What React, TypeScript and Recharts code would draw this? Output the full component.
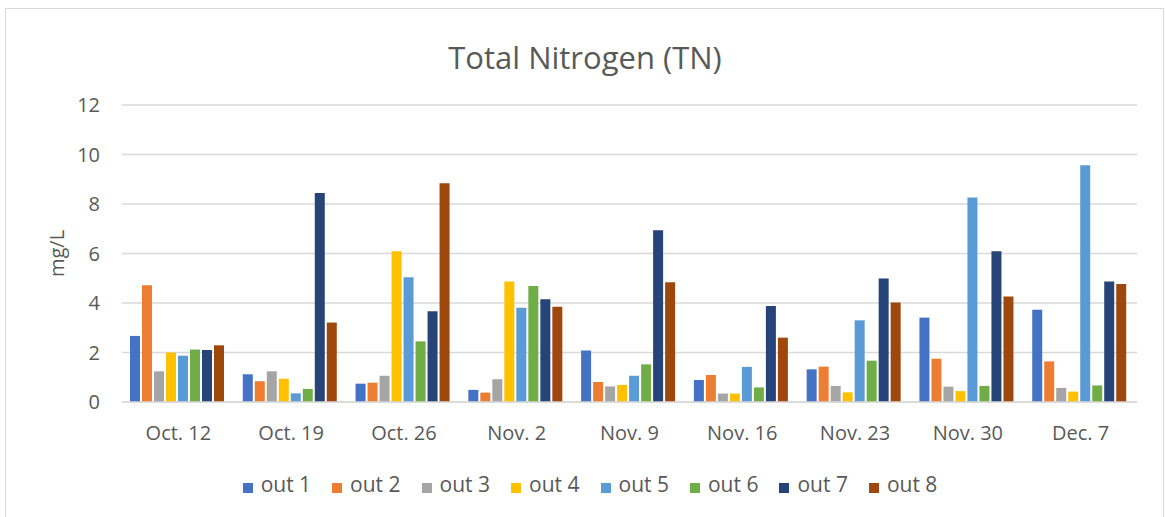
import { BarChart, Bar, XAxis, YAxis, CartesianGrid, Legend } from 'recharts'

const dates = ['Oct. 12', 'Oct. 19', 'Oct. 26', 'Nov. 2', 'Nov. 9', 'Nov. 16', 'Nov. 23', 'Nov. 30', 'Dec. 7']

const out1 = [2.67, 1.12, 0.74, 0.49, 2.08, 0.89, 1.32, 3.41, 3.73]
const out2 = [4.72, 0.84, 0.78, 0.38, 0.81, 1.09, 1.43, 1.75, 1.64]
const out3 = [1.24, 1.24, 1.06, 0.92, 0.63, 0.34, 0.65, 0.62, 0.57]
const out4 = [2.0, 0.94, 6.09, 4.87, 0.69, 0.34, 0.39, 0.44, 0.42]
const out5 = [1.87, 0.35, 5.04, 3.81, 1.06, 1.42, 3.3, 8.26, 9.57]
const out6 = [2.12, 0.53, 2.45, 4.69, 1.52, 0.59, 1.67, 0.65, 0.67]
const out7 = [2.1, 8.44, 3.67, 4.15, 6.94, 3.88, 4.99, 6.09, 4.87]
const out8 = [2.29, 3.21, 8.84, 3.85, 4.84, 2.6, 4.02, 4.26, 4.77]

const yTicks = [0, 2, 4, 6, 8, 10, 12]

const series = [
  { key: 'out 1', values: out1, color: '#4472C4' },
  { key: 'out 2', values: out2, color: '#ED7D31' },
  { key: 'out 3', values: out3, color: '#A5A5A5' },
  { key: 'out 4', values: out4, color: '#FFC000' },
  { key: 'out 5', values: out5, color: '#5B9BD5' },
  { key: 'out 6', values: out6, color: '#70AD47' },
  { key: 'out 7', values: out7, color: '#264478' },
  { key: 'out 8', values: out8, color: '#9E480E' },
]

const data = dates.map((date, i) => {
  const row: Record<string, string | number> = { date }
  series.forEach((s) => {
    row[s.key] = s.values[i]
  })
  return row
})

const font = '"Open Sans", sans-serif'
const textColor = '#595959'

export default function App() {
  return (
    <div
      style={{
        position: 'absolute',
        left: 0,
        top: 0,
        width: 1165,
        height: 517,
        overflow: 'hidden',
        background: '#fff',
        fontFamily: font,
      }}
    >
      <div
        style={{
          position: 'absolute',
          left: 5,
          top: 8,
          width: 1157,
          height: 540,
          border: '1px solid #d9d9d9',
        }}
      />
      <div
        style={{
          position: 'absolute',
          left: 0,
          top: 42,
          width: 1170,
          textAlign: 'center',
          fontSize: 31,
          lineHeight: '31px',
          color: textColor,
        }}
      >
        Total Nitrogen (TN)
      </div>
      <BarChart
        width={1165}
        height={517}
        data={data}
        margin={{ top: 105, right: 28, left: 0, bottom: 0 }}
        barCategoryGap={8}
        barGap={2}
        style={{ position: 'absolute', left: 0, top: 0 }}
      >
        <CartesianGrid vertical={false} stroke="#d9d9d9" strokeWidth={1.5} />
        <XAxis
          dataKey="date"
          height={60}
          tickLine={false}
          axisLine={{ stroke: '#d9d9d9', strokeWidth: 1.5 }}
          tickMargin={18}
          tick={{ fill: textColor, fontSize: 20, fontFamily: font }}
        />
        <YAxis
          width={122}
          domain={[0, 12]}
          ticks={yTicks}
          axisLine={false}
          tickLine={false}
          tickMargin={16}
          tick={{ fill: textColor, fontSize: 20, fontFamily: font }}
          label={{
            value: 'mg/L',
            angle: -90,
            position: 'insideLeft',
            offset: 57,
            style: { textAnchor: 'middle', fill: textColor, fontSize: 20, fontFamily: font },
          }}
        />
        <Legend
          verticalAlign="bottom"
          iconType="square"
          iconSize={10}
          wrapperStyle={{ height: 55, paddingTop: 8, paddingLeft: 64, boxSizing: 'border-box', fontFamily: font }}
          formatter={(value) => (
            <span style={{ color: textColor, fontSize: 21, marginLeft: 4, marginRight: 11 }}>{value}</span>
          )}
        />
        {series.map((s) => (
          <Bar key={s.key} dataKey={s.key} fill={s.color} isAnimationActive={false} />
        ))}
      </BarChart>
    </div>
  )
}
